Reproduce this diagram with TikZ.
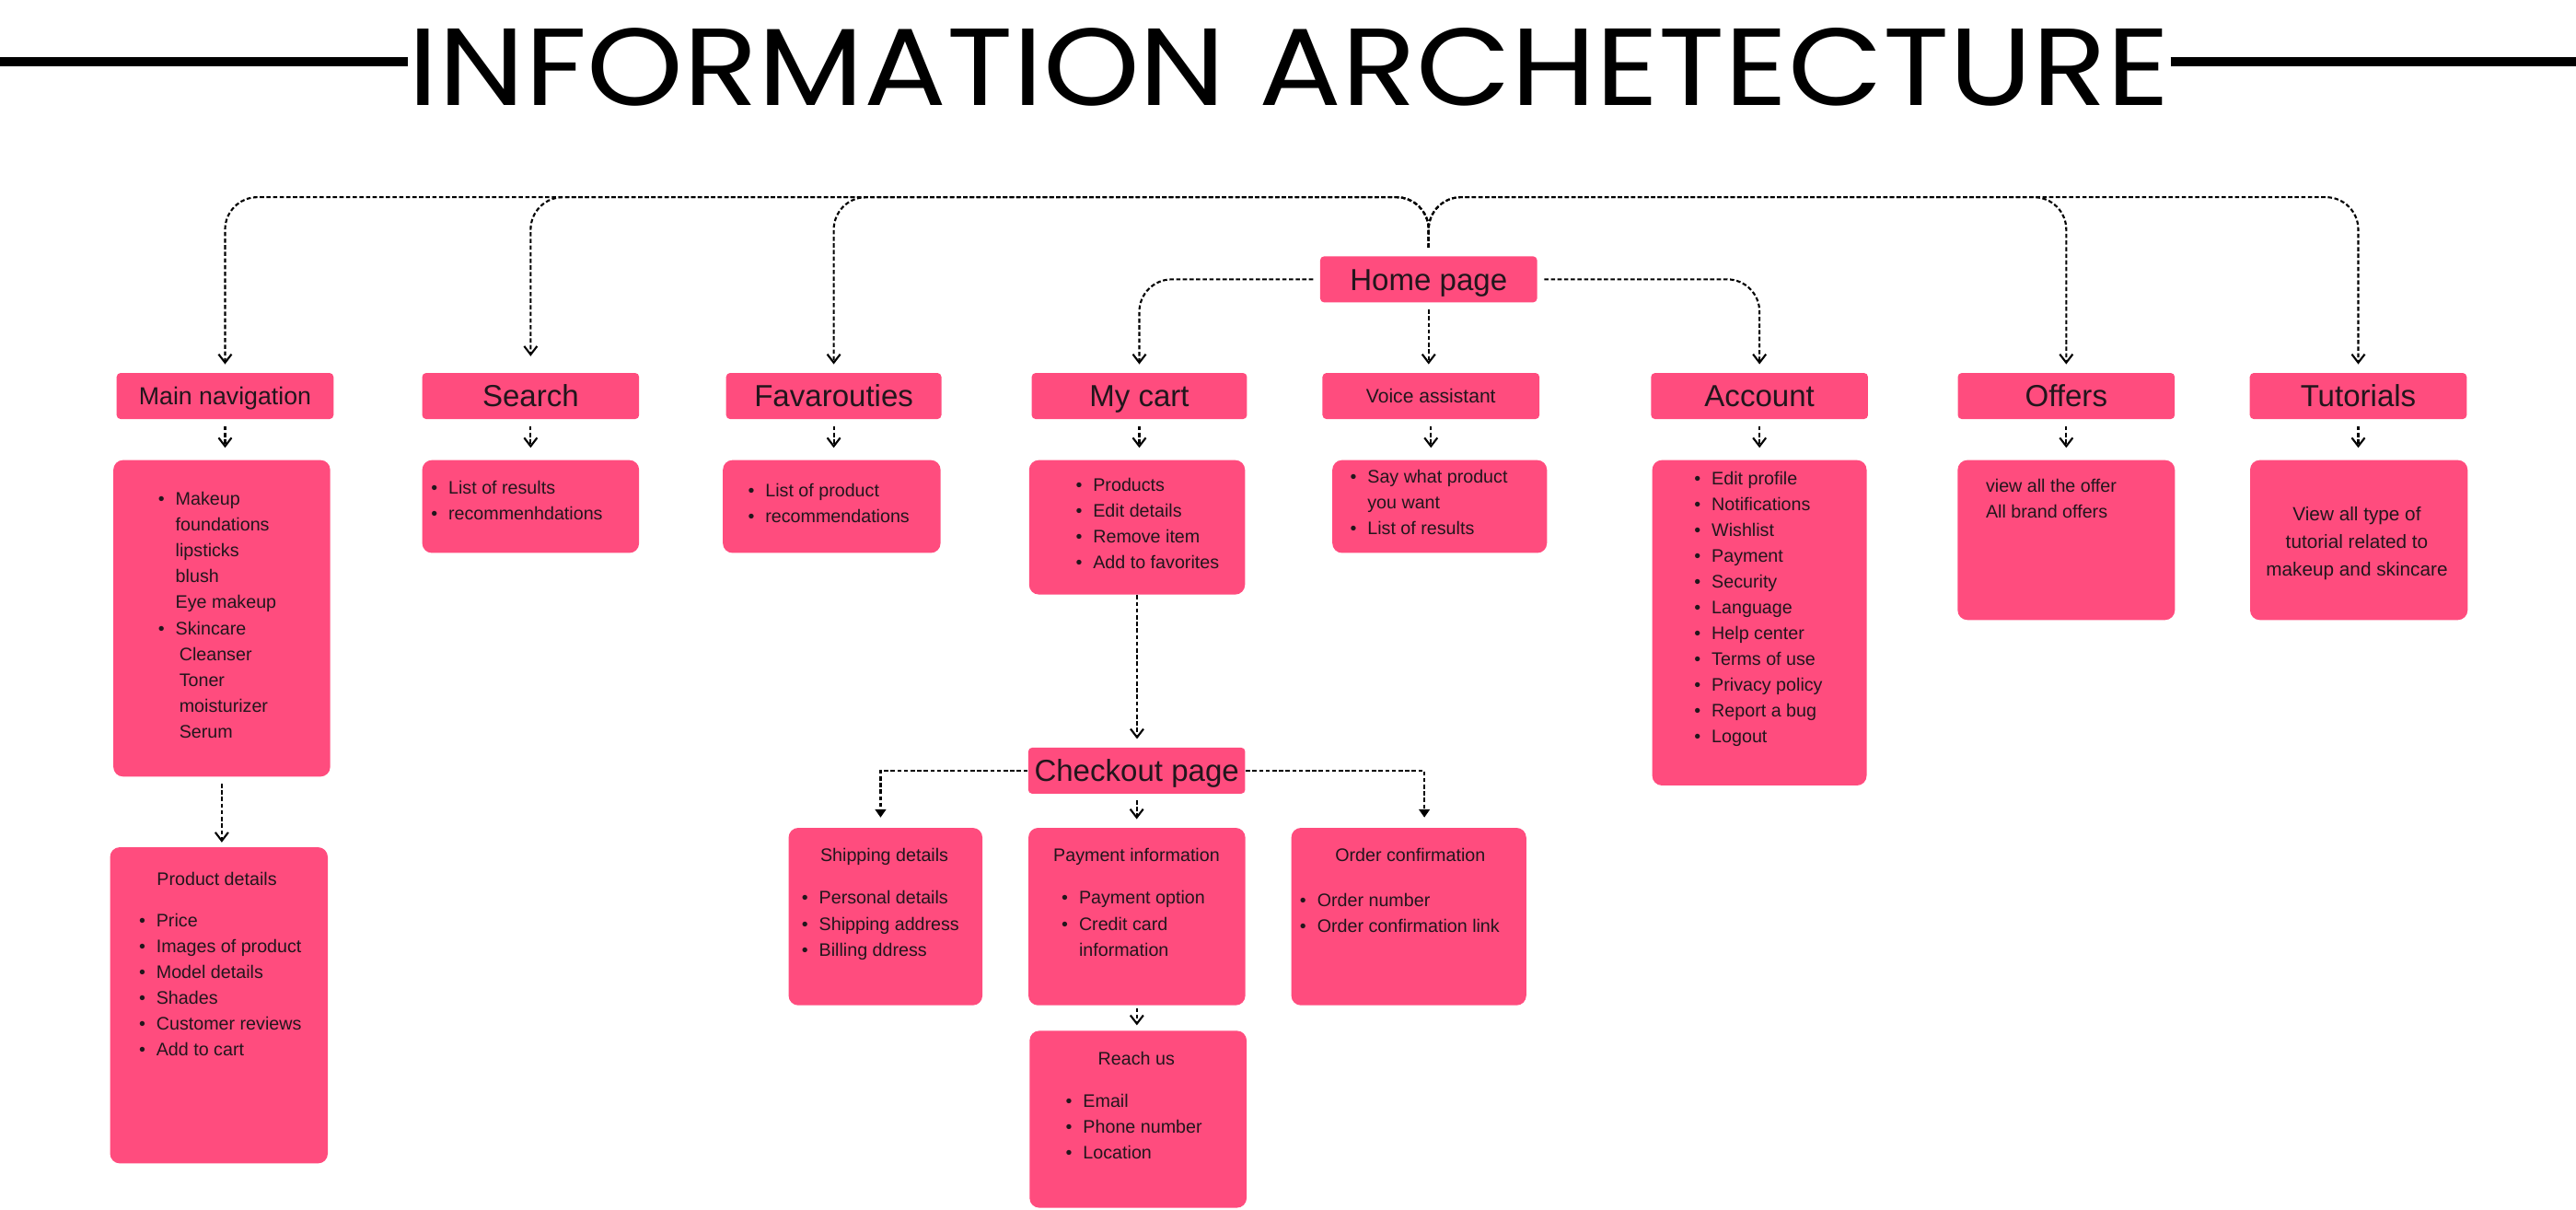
\documentclass[tikz,border=0pt]{standalone}
\usepackage{graphicx}
\usepackage{fontspec}
\setmainfont{Liberation Sans}
\newfontfamily\titlefont{Poppins}
\usetikzlibrary{arrows.meta,fit,calc}
\definecolor{boxpink}{RGB}{255,76,126}
\definecolor{ink}{RGB}{34,22,28}
\newcommand{\bul}[1]{\makebox[0pt][r]{\textbullet\hspace{3.4pt}}#1}
\newcommand{\lstfont}{\fontsize{5.6}{7.97}\selectfont}
\begin{document}
\begin{tikzpicture}[x=0.0178444cm,y=-0.0178444cm,
  pinkbox/.style={draw=none,fill=boxpink,rounded corners=3pt,inner sep=0pt},
  hdr/.style={draw=none,fill=boxpink,rounded corners=1.2pt,inner sep=0pt,text=ink,
    minimum width=67pt,minimum height=14.22pt,
    font=\fontsize{9.4}{11}\selectfont,text height=6.73pt,text depth=0pt},
  txt/.style={inner sep=0pt,text=ink,font=\lstfont},
  conn/.style={line width=0.6pt,dash pattern=on 1.3pt off 0.75pt,-{Straight Barb[length=2.6pt,width=4pt]}},
  fconn/.style={line width=0.6pt,dash pattern=on 1.3pt off 0.75pt,-{Triangle[length=2.5pt,width=3.3pt]}},
  busline/.style={conn,rounded corners=10pt}
]
\useasboundingbox (0,0) rectangle (1568,736);

% title
\node[inner sep=0pt,anchor=base west] (title) at (248.3,63.9)
  {\resizebox{544pt}{23.9pt}{\titlefont INFORMATION ARCHETECTURE}};
\coordinate (tl) at (0,37.5);
\coordinate (tr) at (1568,37.5);
\draw[line width=2.85pt] (tl) -- (title.west |- tl);
\draw[line width=2.85pt] (title.east |- tr) -- (tr);

% header nodes
\node[hdr] (home) at (869.6,170) {Home page};
\node[hdr,font=\fontsize{7.6}{9}\selectfont,text height=5.45pt] (mainnav) at (137,241) {Main navigation};
\node[hdr] (search) at (323,241) {Search};
\node[hdr,minimum width=66.5pt] (fav) at (507.5,241) {Favarouties};
\node[hdr,minimum width=66.5pt] (cart) at (693.5,241) {My cart};
\node[hdr,font=\fontsize{6}{7}\selectfont,text height=4.3pt] (voice) at (871,241) {Voice assistant};
\node[hdr] (account) at (1071,241) {Account};
\node[hdr] (offers) at (1257.7,241) {Offers};
\node[hdr] (tutorials) at (1435.45,241) {Tutorials};
\node[hdr] (checkout) at (691.9,469) {Checkout page};

% content boxes
\node[pinkbox,fit={(69,280)(201,472.6)}] (mnlist) {};
\node[pinkbox,fit={(67,515.6)(199.5,708)}] (pd) {};
\node[pinkbox,fit={(257,280)(389,336.5)}] (srlist) {};
\node[pinkbox,fit={(440,280)(572.5,336.5)}] (favlist) {};
\node[pinkbox,fit={(626.4,280)(757.8,361.8)}] (cartlist) {};
\node[pinkbox,fit={(811,280)(941.6,336.5)}] (voicelist) {};
\node[pinkbox,fit={(1005.7,280)(1136.2,478)}] (acclist) {};
\node[pinkbox,fit={(1191.6,280)(1323.8,377.3)}] (offlist) {};
\node[pinkbox,fit={(1369.6,280)(1502,377.3)}] (tutlist) {};
\node[pinkbox,fit={(480,503.8)(598,611.8)}] (ship) {};
\node[pinkbox,fit={(626,503.8)(758,611.8)}] (pay) {};
\node[pinkbox,fit={(786,503.8)(929,611.8)}] (order) {};
\node[pinkbox,fit={(626.7,627.3)(758.8,735)}] (reach) {};

% texts
\node[txt,anchor=base west] (mntext) at (106.5,307.6) {\begin{tabular}[t]{@{}l@{}}
 \bul{Makeup}\\ foundations\\ lipsticks\\ blush\\ Eye makeup\\ \bul{Skincare}\\
 \hspace{1.15pt}Cleanser\\ \hspace{1.15pt}Toner\\ \hspace{1.15pt}moisturizer\\ \hspace{1.15pt}Serum\end{tabular}};
\node[txt,anchor=base] (pdtitle) at (132,538.9) {Product details};
\node[txt,anchor=base west] (pdtext) at (94.8,563.9) {\begin{tabular}[t]{@{}l@{}}
 \bul{Price}\\ \bul{Images of product}\\ \bul{Model details}\\ \bul{Shades}\\ \bul{Customer reviews}\\ \bul{Add to cart}\end{tabular}};
\node[txt,anchor=base west] (srtext) at (272.6,300.9) {\begin{tabular}[t]{@{}l@{}}
 \bul{List of results}\\ \bul{recommenhdations}\end{tabular}};
\node[txt,anchor=base west] (favtext) at (465.5,302.4) {\begin{tabular}[t]{@{}l@{}}
 \bul{List of product}\\ \bul{recommendations}\end{tabular}};
\node[txt,anchor=base west] (carttext) at (665,299.1) {\begin{tabular}[t]{@{}l@{}}
 \bul{Products}\\ \bul{Edit details}\\ \bul{Remove item}\\ \bul{Add to favorites}\end{tabular}};
\node[txt,anchor=base west] (voicetext) at (832,293.9) {\begin{tabular}[t]{@{}l@{}}
 \bul{Say what product}\\ you want\\ \bul{List of results}\end{tabular}};
\node[txt,anchor=base west] (acctext) at (1041.5,294.9) {\begin{tabular}[t]{@{}l@{}}
 \bul{Edit profile}\\ \bul{Notifications}\\ \bul{Wishlist}\\ \bul{Payment}\\ \bul{Security}\\
 \bul{Language}\\ \bul{Help center}\\ \bul{Terms of use}\\ \bul{Privacy policy}\\ \bul{Report a bug}\\ \bul{Logout}\end{tabular}};
\node[txt,anchor=base west] (offtext) at (1208.4,299.4) {\begin{tabular}[t]{@{}l@{}}
 view all the offer\\ All brand offers\end{tabular}};
\node[txt,anchor=base,font=\fontsize{5.9}{8.53}\selectfont] (tuttext) at (1434.6,316.8) {\begin{tabular}[t]{@{}c@{}}
 View all type of\\ tutorial related to\\ makeup and skincare\end{tabular}};
\node[txt,anchor=base] (shiptitle) at (538.3,524.2) {Shipping details};
\node[txt,anchor=base west] (shiptext) at (498.2,550.3) {\begin{tabular}[t]{@{}l@{}}
 \bul{Personal details}\\ \bul{Shipping address}\\ \bul{Billing ddress}\end{tabular}};
\node[txt,anchor=base] (paytitle) at (691.8,524.5) {Payment information};
\node[txt,anchor=base west] (paytext) at (656.4,550.3) {\begin{tabular}[t]{@{}l@{}}
 \bul{Payment option}\\ \bul{Credit card}\\ information\end{tabular}};
\node[txt,anchor=base] (ordertitle) at (858.4,524.2) {Order confirmation};
\node[txt,anchor=base west] (ordertext) at (801.4,551.8) {\begin{tabular}[t]{@{}l@{}}
 \bul{Order number}\\ \bul{Order confirmation link}\end{tabular}};
\node[txt,anchor=base] (reachtitle) at (691.7,647.9) {Reach us};
\node[txt,anchor=base west] (reachtext) at (658.9,673.9) {\begin{tabular}[t]{@{}l@{}}
 \bul{Email}\\ \bul{Phone number}\\ \bul{Location}\end{tabular}};

% top bus connectors
\coordinate (bus) at (0,120);
\draw[busline,shorten <=2.5pt,shorten >=2.5pt] (home.north) -- (home.north |- bus) -- (mainnav.north |- bus) -- (mainnav.north);
\draw[busline,shorten <=2.5pt,shorten >=5pt] (home.north) -- (home.north |- bus) -- (search.north |- bus) -- (search.north);
\draw[busline,shorten <=2.5pt,shorten >=2.5pt] (home.north) -- (home.north |- bus) -- (fav.north |- bus) -- (fav.north);
\draw[busline,shorten <=2.5pt,shorten >=2.5pt] (home.north) -- (home.north |- bus) -- (offers.north |- bus) -- (offers.north);
\draw[busline,shorten <=2.5pt,shorten >=2.5pt] (home.north) -- (home.north |- bus) -- (tutorials.north |- bus) -- (tutorials.north);
% home side connectors
\draw[busline,shorten <=2pt,shorten >=2.5pt] (home.west) -| (cart.north);
\draw[busline,shorten <=2pt,shorten >=2.5pt] (home.east) -| (account.north);
\draw[conn,shorten <=2pt,shorten >=2.5pt] (home.south) -- (home.south |- voice.north);

% header to list
\foreach \h/\l in {mainnav/mnlist,search/srlist,fav/favlist,cart/cartlist,voice/voicelist,account/acclist,offers/offlist,tutorials/tutlist}{
  \draw[conn,shorten <=2pt,shorten >=3.6pt] (\h.south) -- (\h.south |- \l.north);
}
\draw[conn,shorten <=2pt,shorten >=1.3pt] (mnlist.south) -- (mnlist.south |- pd.north);
\draw[conn,shorten >=2.5pt] (cartlist.south) -- (cartlist.south |- checkout.north);
\draw[conn,shorten <=1.8pt,shorten >=2.5pt] (checkout.south) -- (checkout.south |- pay.north);
\draw[fconn,shorten >=3pt] (checkout.west) -| ($(ship.north)+(-3,0)$);
\draw[fconn,shorten >=3pt] (checkout.east) -| ($(order.north)+(9.5,0)$);
\draw[conn,shorten <=0.6pt,shorten >=1.5pt] (pay.south) -- (pay.south |- reach.north);
\end{tikzpicture}
\end{document}
